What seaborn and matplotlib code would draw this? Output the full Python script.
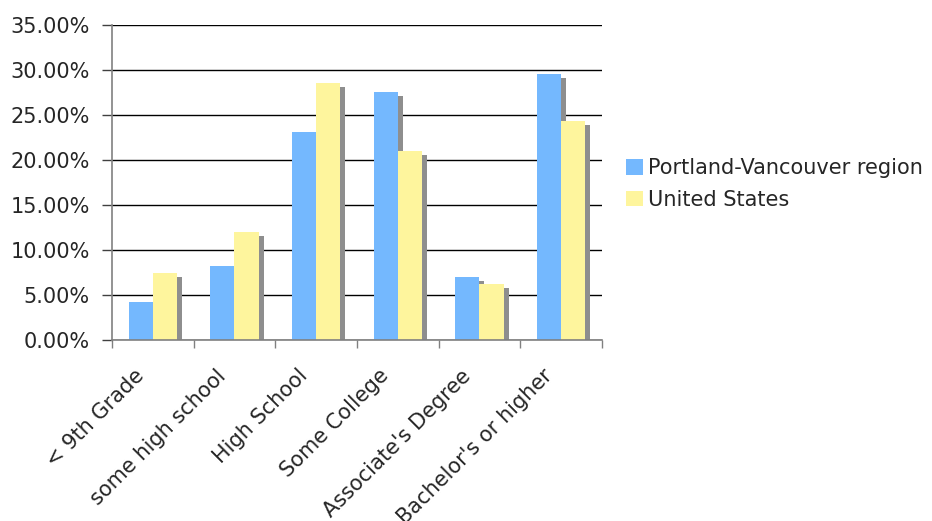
import matplotlib
matplotlib.use("Agg")
import matplotlib.pyplot as plt
import matplotlib.transforms as mtransforms
from matplotlib.patches import Rectangle
from matplotlib.ticker import FuncFormatter, FixedLocator
import seaborn as sns
import pandas as pd

categories = ["< 9th Grade", "some high school", "High School", "Some College",
              "Associate's Degree", "Bachelor's or higher"]
portland = [0.0426, 0.0826, 0.2315, 0.2759, 0.0704, 0.2959]
usa = [0.0748, 0.1204, 0.2859, 0.2104, 0.0626, 0.2437]
series_names = ["Portland-Vancouver region", "United States"]
colors = ["#74B8FE", "#FEF59D"]
y_ticks = [0.0, 0.05, 0.10, 0.15, 0.20, 0.25, 0.30, 0.35]

df = pd.DataFrame({
    "cat": categories * 2,
    "val": portland + usa,
    "series": [series_names[0]] * len(categories) + [series_names[1]] * len(categories),
})

sns.set_theme(style="white")
plt.rcParams["font.family"] = ["DejaVu Sans"]
FS = 15

AX_W_PX = 490
fig = plt.figure(figsize=(9.32, 5.21), dpi=100)
ax = fig.add_axes([112 / 932, 1 - 340 / 521, AX_W_PX / 932, 315 / 521])

sns.barplot(data=df, x="cat", y="val", hue="series", palette=colors,
            width=0.59, gap=0, saturation=1, ax=ax, legend=True,
            linewidth=0, edgecolor="none", zorder=3)

# drop shadows offset from the drawn bars
offset = mtransforms.ScaledTranslation(5 / 100, -4 / 100, fig.dpi_scale_trans)
bars = [p for p in ax.patches if isinstance(p, Rectangle) and p.get_height() > 0]
for p in bars:
    sh = Rectangle((p.get_x(), p.get_y()), p.get_width(), p.get_height(),
                   facecolor="#8E8E8E", edgecolor="none", zorder=2,
                   transform=ax.transData + offset)
    ax.add_patch(sh)

ax.set_ylim(0, 0.35)
ax.set_xlim(-0.5, len(categories) - 0.5)
ax.yaxis.set_major_locator(FixedLocator(y_ticks))
ax.yaxis.set_major_formatter(FuncFormatter(lambda v, _: f"{v * 100:.2f}%"))
ax.grid(axis="y", color="#000000", linewidth=1.0, zorder=1)
ax.set_axisbelow(True)

ax.set_xlabel("")
ax.set_ylabel("")
# label anchors nudged left by ~19 px (invisible major ticks)
shift = 19 / (AX_W_PX / len(categories))
ax.set_xticks([i - shift for i in range(len(categories))])
ax.set_xticklabels(categories, rotation=45, ha="right", rotation_mode="anchor", fontsize=FS)
ax.set_xticks([i - 0.5 for i in range(len(categories) + 1)], minor=True)
ax.tick_params(axis="x", which="major", length=0, pad=18.5)
ax.tick_params(axis="x", which="minor", length=6, width=1, color="#808080", direction="out", bottom=True)
ax.tick_params(axis="y", which="major", length=7, width=1, color="#404040", direction="out",
               left=True, labelsize=FS, pad=9)
ax.set_xlim(-0.5, len(categories) - 0.5)

for s in ["top", "right"]:
    ax.spines[s].set_visible(False)
for s in ["left", "bottom"]:
    ax.spines[s].set_color("#808080")
    ax.spines[s].set_linewidth(1.2)
    ax.spines[s].set_zorder(4)

handles, labels = ax.get_legend_handles_labels()
ax.legend(handles, labels, loc="center left", bbox_to_anchor=(626 / 932, 1 - 184 / 521),
          bbox_transform=fig.transFigure, frameon=False, fontsize=FS,
          handlelength=0.8, handleheight=0.8, handletextpad=0.25,
          labelspacing=0.55, borderpad=0, borderaxespad=0)

fig.savefig("out.png", dpi=100)
